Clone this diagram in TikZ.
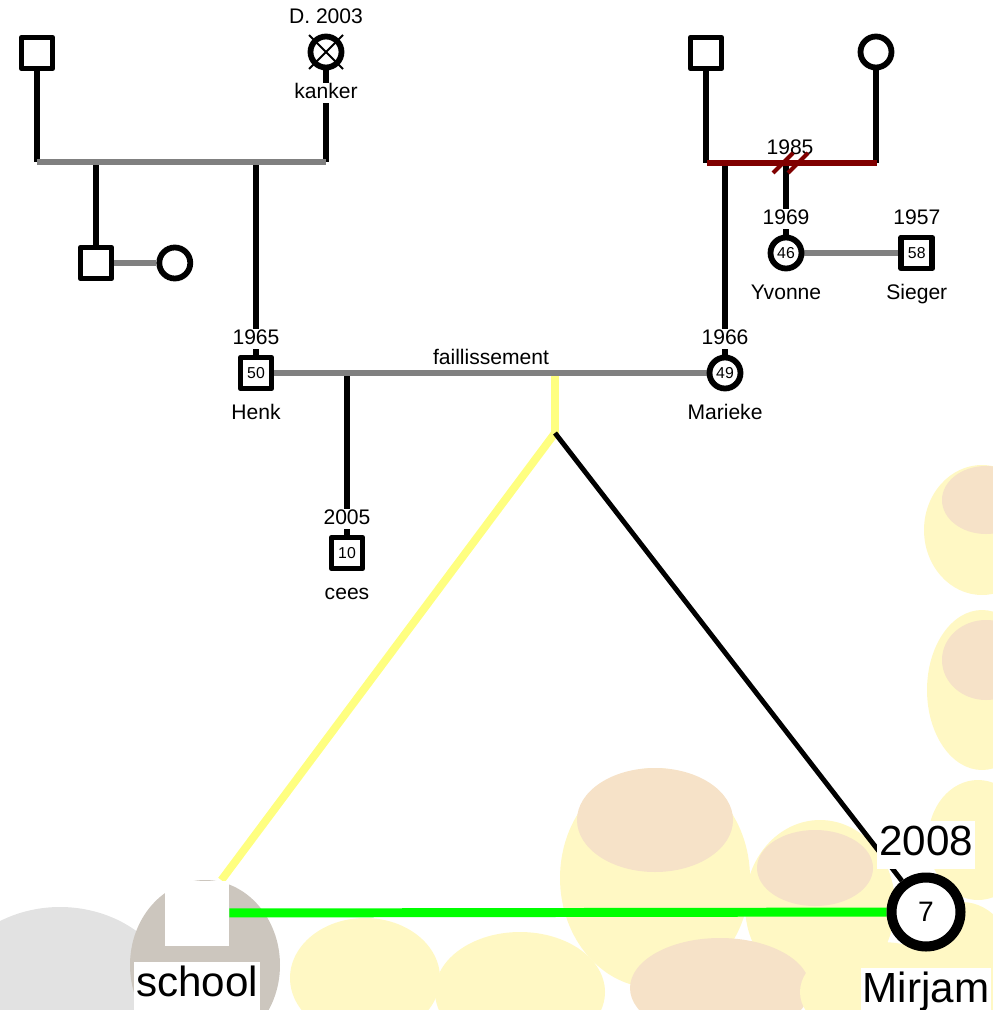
\documentclass[tikz,border=0pt]{standalone}
\usepackage{fontspec}
\setmainfont{Liberation Sans}
\usetikzlibrary{positioning}
\pgfdeclarelayer{blobs}
\pgfdeclarelayer{lines}
\pgfsetlayers{blobs,lines,main}
\definecolor{tiegray}{HTML}{808080}
\definecolor{splitred}{HTML}{800000}
\definecolor{schoolyellow}{HTML}{FFFF80}
\definecolor{schoolgreen}{HTML}{00FF00}
\definecolor{petal}{RGB}{255,248,196}
\definecolor{heart}{RGB}{246,226,200}
\definecolor{bggray}{RGB}{226,226,226}
\definecolor{stone}{RGB}{204,198,190}
\tikzset{male/.style = {rectangle,draw,fill=white,line width=3.3pt,line join=round,minimum size=0.62cm,inner sep=0pt,font=\fontsize{9}{10}\selectfont},
         female/.style = {circle,draw,fill=white,line width=3.3pt,minimum size=0.62cm,inner sep=0pt,font=\fontsize{9}{10}\selectfont},
         every label/.style = {fill=white,inner sep=0pt,text height=8.7pt,text depth=2.5pt,font=\fontsize{12}{14}\selectfont},
         lowlabel/.style = {yshift=-4pt},
         biglabel/.style = {inner xsep=1pt,inner ysep=2.5pt,text height=17.3pt,text depth=5pt,font=\fontsize{24}{28}\selectfont},
         kid/.style = {line width=3.3pt},
         tie/.style = {line width=3.4pt,tiegray}}

\begin{document}
\begin{tikzpicture}[x=0.02cm, y=-0.02cm, label distance=3pt]
            \useasboundingbox (0,0) rectangle (992,1010);

            % faded sunflowers behind the picture
            \begin{pgfonlayer}{blobs}
            \foreach \cx/\cy/\rx/\ry/\tint in {60/1012/120/105/bggray, 205/965/75/85/stone,
                     365/978/75/60/petal, 520/992/85/60/petal, 655/878/95/110/petal,
                     655/820/78/52/heart, 820/905/75/85/petal, 815/868/58/38/heart,
                     720/988/90/50/heart, 880/992/80/50/petal,
                     982/530/58/65/petal, 986/500/44/34/heart, 982/690/55/80/petal,
                     986/660/44/40/heart, 978/840/50/60/petal, 962/972/55/70/petal}
                \fill [\tint] (\cx,\cy) ellipse [x radius=\rx, y radius=\ry];
            \end{pgfonlayer}

            % Henk's parents
            \node [male]   (opa1) at ( 37, 53) {};
            \node [female, label=above:D. 2003, label={[lowlabel]below:kanker}] (oma1) at (326, 52) {};
            \draw [line width=1.1pt] ([shift={(-17,-17)}]oma1.center) -- ([shift={(17,17)}]oma1.center);
            \draw [line width=1.1pt] ([shift={(17,-17)}]oma1.center) -- ([shift={(-17,17)}]oma1.center);
            \coordinate (tie1a) at ( 37,162);
            \coordinate (tie1b) at (326,162);

            \node [male]   (oom) at ( 96,263) {};
            \node [female, right=0.84cm of oom] (tante) {};
            \node [male, label=above:1965, label={[lowlabel]below:Henk}] (henk) at (256,373) {50};

            % Marieke's parents
            \node [male]   (opa2) at (706, 53) {};
            \node [female] (oma2) at (876, 52) {};
            \coordinate (tie2a) at (707,163);
            \coordinate (tie2b) at (877,163);
            \node [font=\fontsize{12}{14}\selectfont] (jaar) at (790,147) {1985};
            \draw [splitred, line width=2.3pt] (773,173) -- (793,153);
            \draw [splitred, line width=2.3pt] (788,173) -- (808,153);

            \node [female, label=above:1969, label={[lowlabel]below:Yvonne}] (yvonne) at (786,253) {46};
            \node [male, right=1.88cm of yvonne, label=above:1957, label={[lowlabel]below:Sieger}] (sieger) {58};
            \node [female, label=above:1966, label={[lowlabel]below:Marieke}] (marieke) at (725,373) {49};
            \node [male, label=above:2005, label={[lowlabel]below:cees}] (cees) at (347,553) {10};
            \node [font=\fontsize{12}{14}\selectfont] (fail) at (491,357) {faillissement};

            \coordinate (split) at (555,373);
            \coordinate (fork)  at (555,433);
            \node [fill=white, minimum width=1.28cm, minimum height=1.3cm, inner sep=0pt,
                   label={[biglabel, yshift=-6pt]below:school}] (school) at (197,913) {};
            \node [circle, draw, fill=white, line width=5.7pt, minimum size=1.38cm, inner sep=0pt,
                   font=\fontsize{16}{18}\selectfont,
                   label={[biglabel, yshift=-1pt]above:2008}, label={[biglabel, yshift=-6pt]below:Mirjam}] (mirjam) at (926,912) {7};

            \begin{pgfonlayer}{lines}
            \draw [kid] (opa1) -- (opa1 |- tie1a);
            \draw [kid] (oma1) -- (oma1 |- tie1b);
            \draw [kid] (oom) -- (oom |- tie1a);
            \draw [kid] (henk) -- (henk |- tie1a);
            \draw [tie] (tie1a) -- (tie1b);
            \draw [tie] (oom) -- (tante);

            \draw [kid] (opa2) -- (opa2 |- tie2a);
            \draw [kid] (oma2) -- (oma2 |- tie2b);
            \draw [kid] (marieke) -- (marieke |- tie2a);
            \draw [kid] (yvonne) -- (yvonne |- tie2a);
            \draw [splitred, line width=3.3pt] (tie2a) -- (tie2b);
            \draw [tie] (yvonne) -- (sieger);

            \draw [kid] (cees) -- (cees |- henk);
            \draw [schoolyellow, line width=4.5pt] (split) -- (fork) -- (school);
            \draw [tie] (henk) -- (marieke);
            \draw [line width=2.8pt] (fork) -- (mirjam);
            \draw [schoolgreen, line width=5.1pt] (school) -- (mirjam);
            \end{pgfonlayer}
        \end{tikzpicture}
\end{document}
